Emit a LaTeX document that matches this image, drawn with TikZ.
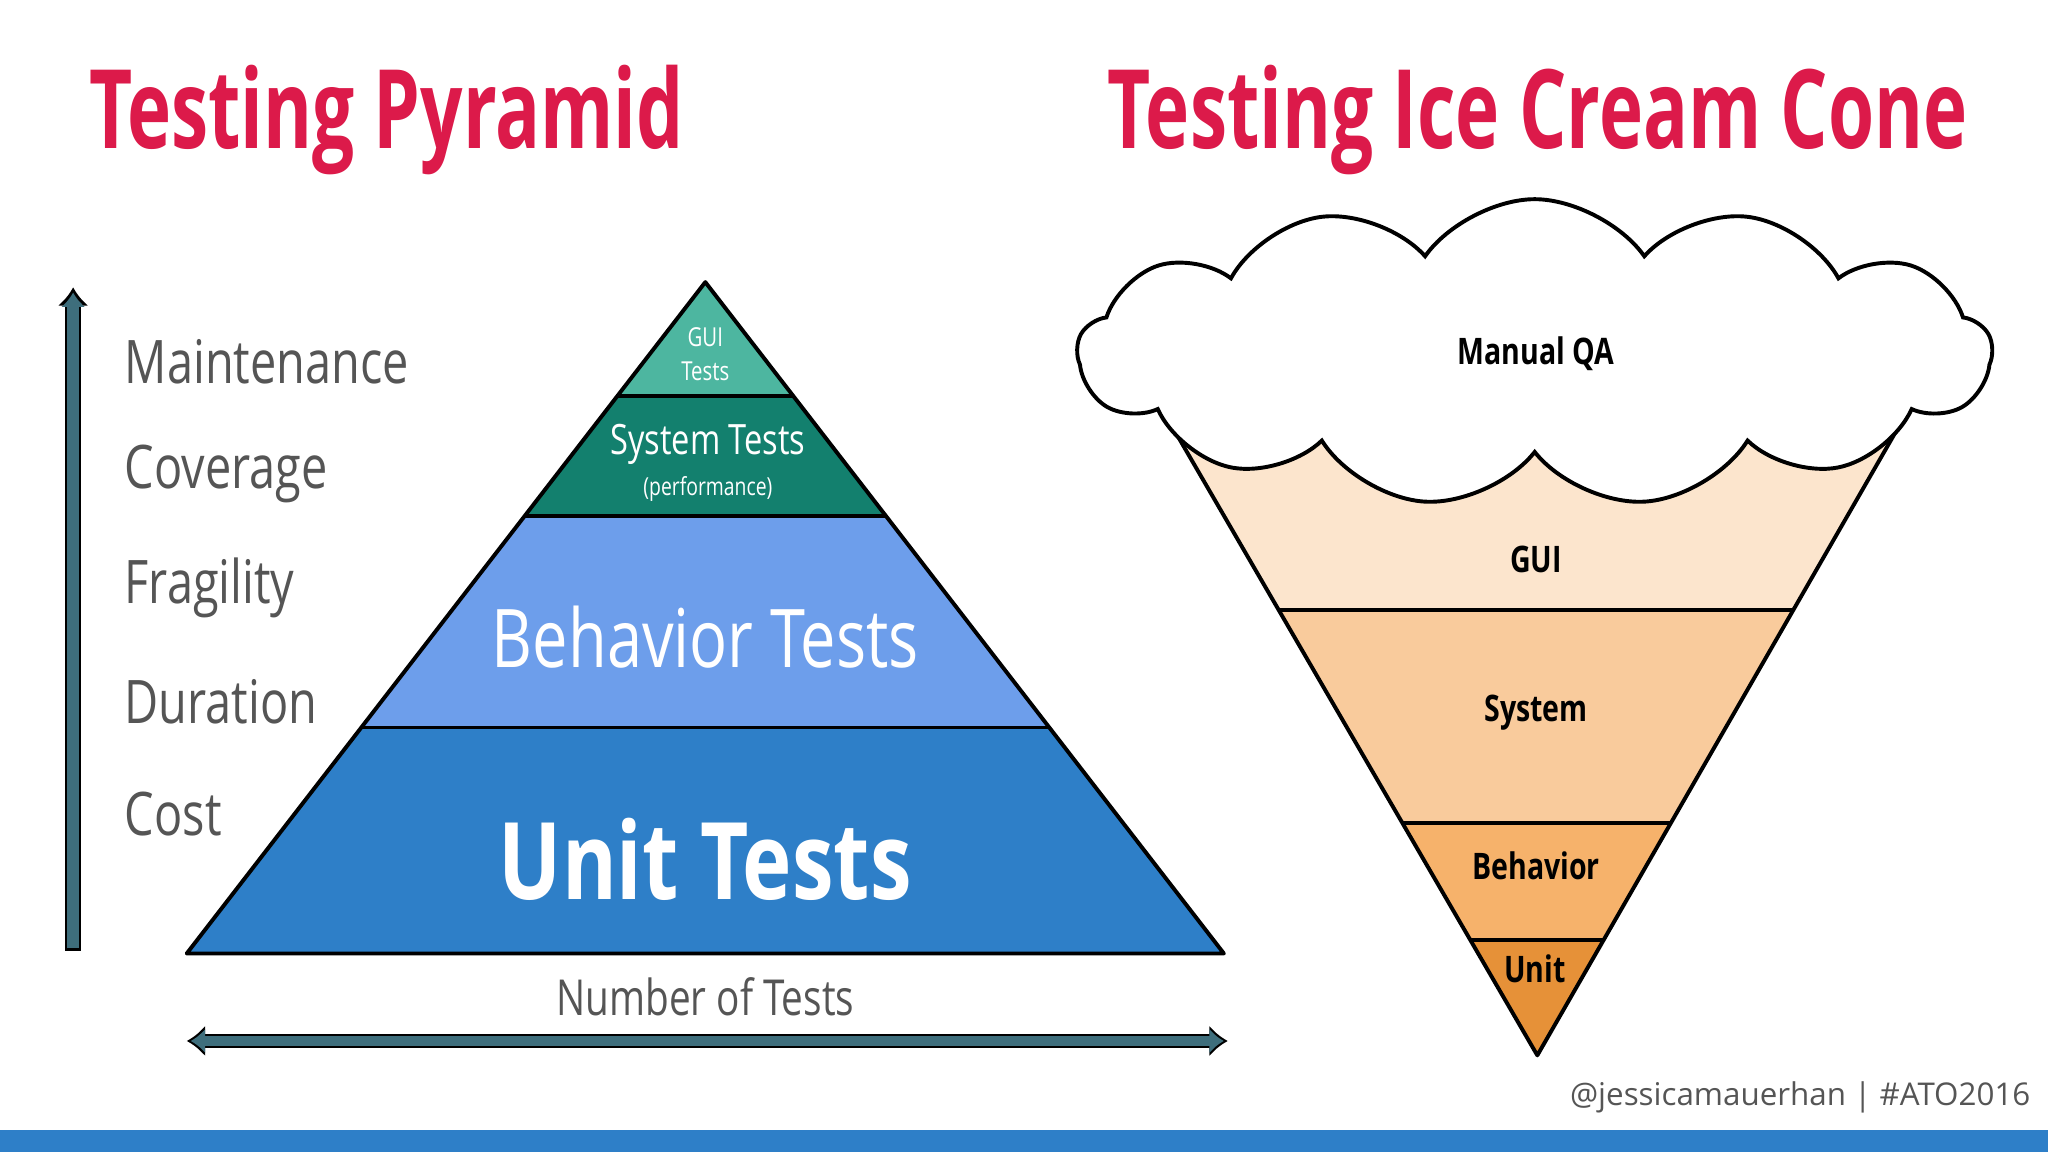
\documentclass[tikz,border=0pt]{standalone}
\usepackage{fontspec}
\setmainfont{Open Sans}
\newfontfamily\cond[FakeStretch=0.78]{Open Sans}
\newfontfamily\tcond[FakeStretch=0.68]{Open Sans}
\usetikzlibrary{shapes.symbols,arrows.meta}
\definecolor{ttl}{HTML}{DC1A4A}
\definecolor{gui}{HTML}{4DB6A0}
\definecolor{sys}{HTML}{13806E}
\definecolor{beh}{HTML}{6D9EEB}
\definecolor{unit}{HTML}{2E7FC8}
\definecolor{cgui}{HTML}{FCE5CD}
\definecolor{csys}{HTML}{F9CB9C}
\definecolor{cbeh}{HTML}{F6B26B}
\definecolor{cunit}{HTML}{E69138}
\definecolor{arr}{HTML}{3E6E7C}
\definecolor{lbl}{HTML}{555555}
\begin{document}
\begin{tikzpicture}[x=1pt,y=-1pt,
 layer/.style={draw=black,line width=3pt,line join=round},
 side/.style={anchor=west,text=lbl,font=\cond\fontsize{46}{50}\selectfont},
 cl/.style={font=\cond\bfseries\fontsize{28}{30}\selectfont},
 ttlstyle/.style={anchor=west,text=ttl,inner sep=0pt,font=\tcond\bfseries\fontsize{84}{90}\selectfont}]
\useasboundingbox (0,0) rectangle (1568,882);
\fill[white] (0,0) rectangle (1568,882);
\fill[unit] (0,865) rectangle (1568,882);
\node[ttlstyle] (t1) at (68,92) {Testing Pyramid};
\node[ttlstyle] (t2) at (848,92) {Testing Ice Cream Cone};
% pyramid
\fill[unit] (143,730) -- (937,730) -- (803.4,557) -- (276.6,557) -- cycle;
\fill[beh] (276.6,557) -- (803.4,557) -- (678.3,395) -- (401.7,395) -- cycle;
\fill[sys] (401.7,395) -- (678.3,395) -- (607.2,303) -- (472.8,303) -- cycle;
\fill[gui] (472.8,303) -- (607.2,303) -- (540,216) -- cycle;
\draw[layer] (143,730) -- (937,730) -- (540,216) -- cycle;
\draw[layer] (276.6,557) -- (803.4,557);
\draw[layer] (401.7,395) -- (678.3,395);
\draw[layer] (472.8,303) -- (607.2,303);
\node[text=white,align=center,font=\cond\fontsize{20}{26}\selectfont] (g) at (540,271) {GUI\\Tests};
\node[text=white,font=\cond\fontsize{32}{34}\selectfont] (s) at (542,340) {System Tests};
\node[text=white,font=\cond\fontsize{19}{20}\selectfont] (sp) at (542,374) {(performance)};
\node[text=white,font=\cond\fontsize{62}{66}\selectfont] (b) at (540,488) {Behavior Tests};
\node[text=white,font=\cond\bfseries\fontsize{82}{86}\selectfont] (u) at (540,658) {Unit Tests};
% side labels
\node[side] (m) at (92,277) {Maintenance};
\node[side] (c) at (92,363) {Coverage};
\node[side] (f) at (92,450) {Fragility};
\node[side] (d) at (92,537) {Duration};
\node[side] (co) at (92,623) {Cost};
\coordinate (va) at (56,728); \coordinate (vb) at (56,220);
\draw[line width=12pt,black,-{Latex[length=14pt,width=24pt]}] (va) -- (vb);
\draw[line width=9pt,arr,-{Latex[length=11pt,width=19pt]}] (56,726) -- (56,224);
\node[text=lbl,font=\cond\fontsize{38}{40}\selectfont] (n) at (540,763) {Number of Tests};
\coordinate (ha) at (143,797); \coordinate (hb) at (940,797);
\draw[line width=11pt,black,{Latex[length=14pt,width=24pt]}-{Latex[length=14pt,width=24pt]}] (ha) -- (hb);
\draw[line width=8pt,arr,{Latex[length=11pt,width=19pt]}-{Latex[length=11pt,width=19pt]}] (146,797) -- (937,797);
% cone
\fill[cgui] (882,300) -- (1469,300) -- (1372,467) -- (979,467) -- cycle;
\fill[csys] (979,467) -- (1372,467) -- (1279,630) -- (1074,630) -- cycle;
\fill[cbeh] (1074,630) -- (1279,630) -- (1227,720) -- (1126,720) -- cycle;
\fill[cunit] (1126,720) -- (1227,720) -- (1177,808) -- cycle;
\draw[layer] (882,300) -- (1177,808) -- (1469,300);
\draw[layer] (979,467) -- (1372,467);
\draw[layer] (1074,630) -- (1279,630);
\draw[layer] (1126,720) -- (1227,720);
\node[cloud,cloud puffs=13,cloud puff arc=110,aspect=2.9,draw=black,line width=3pt,fill=white,minimum width=700pt,minimum height=235pt,inner sep=0pt] (cloud) at (1175,270) {};
\node[cl] (mq) at (1176,271) {Manual QA};
\node[cl] (cg) at (1176,428) {GUI};
\node[cl] (cs) at (1176,546) {System};
\node[cl] (cb) at (1176,663) {Behavior};
\node[cl] (cu) at (1175,742) {Unit};
\node[anchor=east,text=lbl,font=\fontsize{24}{26}\selectfont] (ft) at (1558,840) {@jessicamauerhan | \#ATO2016};
\end{tikzpicture}
\end{document}
